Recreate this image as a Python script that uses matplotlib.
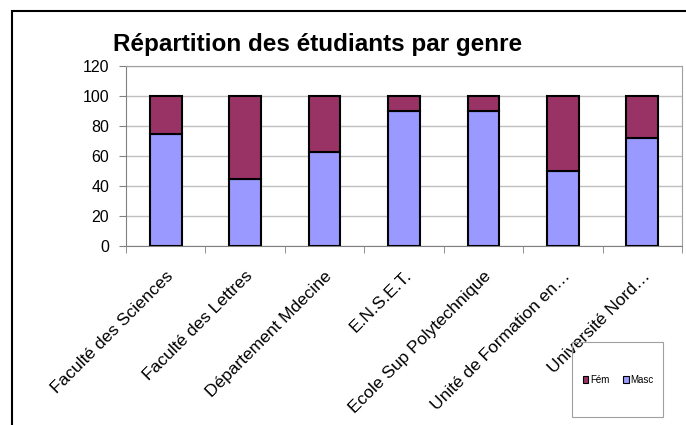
import matplotlib.pyplot as plt
import numpy as np
from matplotlib.patches import Rectangle
from matplotlib.transforms import ScaledTranslation

plt.rcParams['font.family'] = ['Liberation Sans', 'DejaVu Sans']

# data
categories = [
    "Faculté des Sciences",
    "Faculté des Lettres",
    "Département Mdecine",
    "E.N.S.E.T.",
    "Ecole Sup Polytechnique",
    "Unité de Formation en…",
    "Université Nord…",
]
masc = [75, 45, 63, 90, 90, 50, 72]
fem = [25, 55, 37, 10, 10, 50, 28]

masc_color = "#9999FF"
fem_color = "#993366"

W, H = 686, 425
fig = plt.figure(figsize=(W / 100, H / 100), dpi=100)
ax = fig.add_axes([126 / W, 1 - 246 / H, (682 - 126) / W, (246 - 66) / H])

x = np.arange(len(categories))
ax.bar(x, masc, width=0.4, color=masc_color, edgecolor="black", linewidth=1.5,
       label="Masc", zorder=3)
ax.bar(x, fem, width=0.4, bottom=masc, color=fem_color, edgecolor="black",
       linewidth=1.5, label="Fém", zorder=3)

ax.set_xlim(-0.5, len(categories) - 0.5)
ax.set_ylim(0, 120)
ax.set_yticks(np.arange(0, 121, 20))
ax.yaxis.grid(True, color="#c0c0c0", linewidth=1.0, zorder=0)

ax.set_xticks(x)
ax.set_xticklabels(categories, rotation=45, ha="right", va="top",
                   rotation_mode="anchor", fontsize=12.5)
shift = ScaledTranslation(4 / 100, 0, fig.dpi_scale_trans)
for lbl in ax.get_xticklabels():
    lbl.set_transform(lbl.get_transform() + shift)
ax.set_xticks(np.arange(-0.5, len(categories), 1), minor=True)
ax.tick_params(axis="x", which="major", length=0, pad=16)
ax.tick_params(axis="x", which="minor", length=5, color="#808080")
ax.tick_params(axis="y", length=5, color="#808080", labelsize=11.5, pad=7)

for side in ["left", "bottom"]:
    ax.spines[side].set_color("#808080")
for side in ["top", "right"]:
    ax.spines[side].set_color("#a0a0a0")

# outer chart frame, running off the right and bottom edges
fig.patches.append(Rectangle((12 / W, -0.1), 1.2, 1 - 11 / H + 0.1,
                             transform=fig.transFigure, fill=False,
                             edgecolor="black", linewidth=1.5))

fig.text(113 / W, 1 - 51 / H, "Répartition des étudiants par genre",
         fontsize=17.5, fontweight="bold", va="baseline", ha="left")

# legend box drawn separately so its size matches
fig.patches.append(Rectangle((572 / W, 1 - 417 / H), (663 - 572) / W, (417 - 342) / H,
                             transform=fig.transFigure, fill=False,
                             edgecolor="#a0a0a0", linewidth=0.8, zorder=5))
handles, labels = ax.get_legend_handles_labels()
leg = fig.legend(handles[::-1], labels[::-1], loc="center",
                 bbox_to_anchor=(618 / W, 1 - 380 / H),
                 ncol=2, fontsize=7, frameon=False,
                 handlelength=0.6, handleheight=0.6, handletextpad=0.15,
                 columnspacing=1.4, borderpad=0)
leg.set_zorder(6)
for h in leg.legend_handles:
    h.set_linewidth(0.8)

fig.savefig("out.png", dpi=100)
